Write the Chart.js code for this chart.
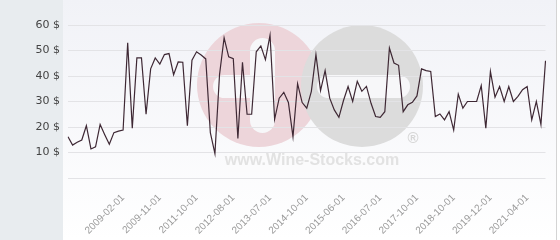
<!DOCTYPE html>
<html>
<head>
<meta charset="utf-8">
<script src="https://cdn.jsdelivr.net/npm/chart.js@4"></script>
<style>
    html, body { margin: 0; padding: 0; background: #ffffff; }
    #wrap { width: 560px; height: 240px; }
</style>
</head>
<body>
<div id="wrap"><canvas id="priceChart" width="560" height="240"></canvas></div>
<script>
// 価格データ (1本あたり $)
const prices = [
    16.2, 12.9, 14, 14.9, 20.5, 11.4, 12.2, 21, 17, 13.2, 17.8, 18.4, 18.8, 53, 19.5, 47.1, 47.1, 25, 42.8, 47.1, 44.7,
    48.4, 48.8, 40.5, 45.5, 45.4, 20.5, 46.2, 49.5, 48.2, 46.7, 17.8, 9.6, 40.5, 55, 47.5, 46.8, 15.5, 45.4, 25, 25,
    49.5, 51.8, 46.4, 56, 23, 31.3, 33.6, 29.6, 16.2, 37, 29.6, 27.4, 34, 48.4, 34.3, 42.1, 31.3, 26.7, 23.8, 30.4, 35.9,
    30, 37.9, 34, 35.9, 29.3, 24.1, 23.8, 26, 51, 45.1, 44.2, 26, 28.7, 29.7, 32.2, 42.8, 42.1, 41.8, 24.1, 25.1, 22.8,
    26, 18.8, 32.9, 27.4, 30, 30, 30, 36.2, 19.5, 41.8, 31.7, 35.9, 30, 35.9, 30, 32, 34.6, 35.9, 22.8, 30, 21, 46
];

// 軸に表示される日付ラベル
const tickLabels = [
    '2009-02-01', '2009-11-01', '2011-10-01', '2012-08-01', '2013-07-01', '2014-10-01',
    '2015-06-01', '2016-07-01', '2017-10-01', '2018-10-01', '2019-12-01', '2021-04-01'
];
const firstLabelIndex = 12;
const labelEvery = 8;

// y軸の目盛り
const yTicks = [0, 10, 20, 30, 40, 50, 60];

// カテゴリラベルの作成 (表示されない点は空)
function buildLabels() {
    const labels = [];
    for (let i = 0; i < prices.length; i++) {
        const k = (i - firstLabelIndex) / labelEvery;
        labels.push(Number.isInteger(k) && k >= 0 && k < tickLabels.length ? tickLabels[k] : '');
    }
    return labels;
}

// 背景とウォーターマーク
const backdrop = {
    id: 'backdrop',
    beforeDraw(chart) {
        const ctx = chart.ctx;
        ctx.save();
        ctx.fillStyle = '#e8ecef';
        ctx.fillRect(0, 0, 63, 240);
        const g = ctx.createLinearGradient(0, 0, 0, 240);
        g.addColorStop(0, '#f1f2f7');
        g.addColorStop(1, '#ffffff');
        ctx.fillStyle = g;
        ctx.fillRect(63, 0, 494, 240);
        ctx.fillStyle = '#d4d4d4';
        ctx.fillRect(556, 0, 1, 240);

        // ロゴ
        ctx.globalAlpha = 1;
        ctx.fillStyle = '#edd5da';
        ctx.beginPath();
        ctx.arc(259, 85, 62, 0, Math.PI * 2);
        ctx.fill();
        ctx.fillStyle = '#dcdcdc';
        ctx.beginPath();
        ctx.arc(362, 86, 61, 0, Math.PI * 2);
        ctx.fill();
        ctx.fillStyle = '#f7f7f9';
        pill(ctx, 213, 75, 50, 23);
        pill(ctx, 250, 38, 25, 95);
        pill(ctx, 317, 75, 93, 23);
        ctx.fillStyle = '#fbfbfc';
        ctx.fillRect(228, 152, 170, 20);
        ctx.fillStyle = '#e2e2e2';
        ctx.font = 'bold 16px "Liberation Sans", Arial, sans-serif';
        ctx.textAlign = 'center';
        ctx.textBaseline = 'middle';
        ctx.fillText('www.Wine-Stocks.com', 312, 161);
        ctx.font = 'bold 15px "Liberation Sans", Arial, sans-serif';
        ctx.fillStyle = '#d6d6d6';
        ctx.fillText('®', 413, 139);
        ctx.restore();
    }
};

function pill(ctx, x, y, w, h) {
    const r = Math.min(w, h) / 2;
    ctx.beginPath();
    ctx.roundRect(x, y, w, h, r);
    ctx.fill();
}

// グラフの作成
function createChart() {
    const ctx = document.getElementById('priceChart').getContext('2d');
    new Chart(ctx, {
        type: 'line',
        data: {
            labels: buildLabels(),
            datasets: [{
                data: prices,
                borderColor: '#3e2834',
                borderWidth: 1.2,
                pointRadius: 0,
                tension: 0,
                fill: false
            }]
        },
        options: {
            responsive: false,
            animation: false,
            layout: { padding: { top: 25, right: 6, left: 0, bottom: 0 } },
            plugins: {
                legend: { display: false },
                tooltip: { enabled: false }
            },
            scales: {
                x: {
                    offset: false,
                    grid: { display: false },
                    border: { display: false },
                    ticks: {
                        autoSkip: false,
                        maxRotation: 45,
                        minRotation: 45,
                        padding: 6,
                        color: '#9a9a9a',
                        font: { family: '"Liberation Sans", Arial, sans-serif', size: 10 }
                    },
                    afterFit(scale) { scale.height = 62; }
                },
                y: {
                    min: yTicks[0],
                    max: yTicks[yTicks.length - 1],
                    afterBuildTicks(scale) { scale.ticks = yTicks.map(v => ({ value: v })); },
                    grid: { color: '#e3e3e6', drawTicks: false },
                    border: { display: false },
                    ticks: {
                        padding: 8,
                        color: '#444444',
                        font: { family: '"DejaVu Sans", sans-serif', size: 11 },
                        callback: v => v === 0 ? '' : v + ' $'
                    },
                    afterFit(scale) { scale.width = 68; }
                }
            }
        },
        plugins: [backdrop]
    });
}

document.addEventListener('DOMContentLoaded', createChart);
</script>
</body>
</html>
